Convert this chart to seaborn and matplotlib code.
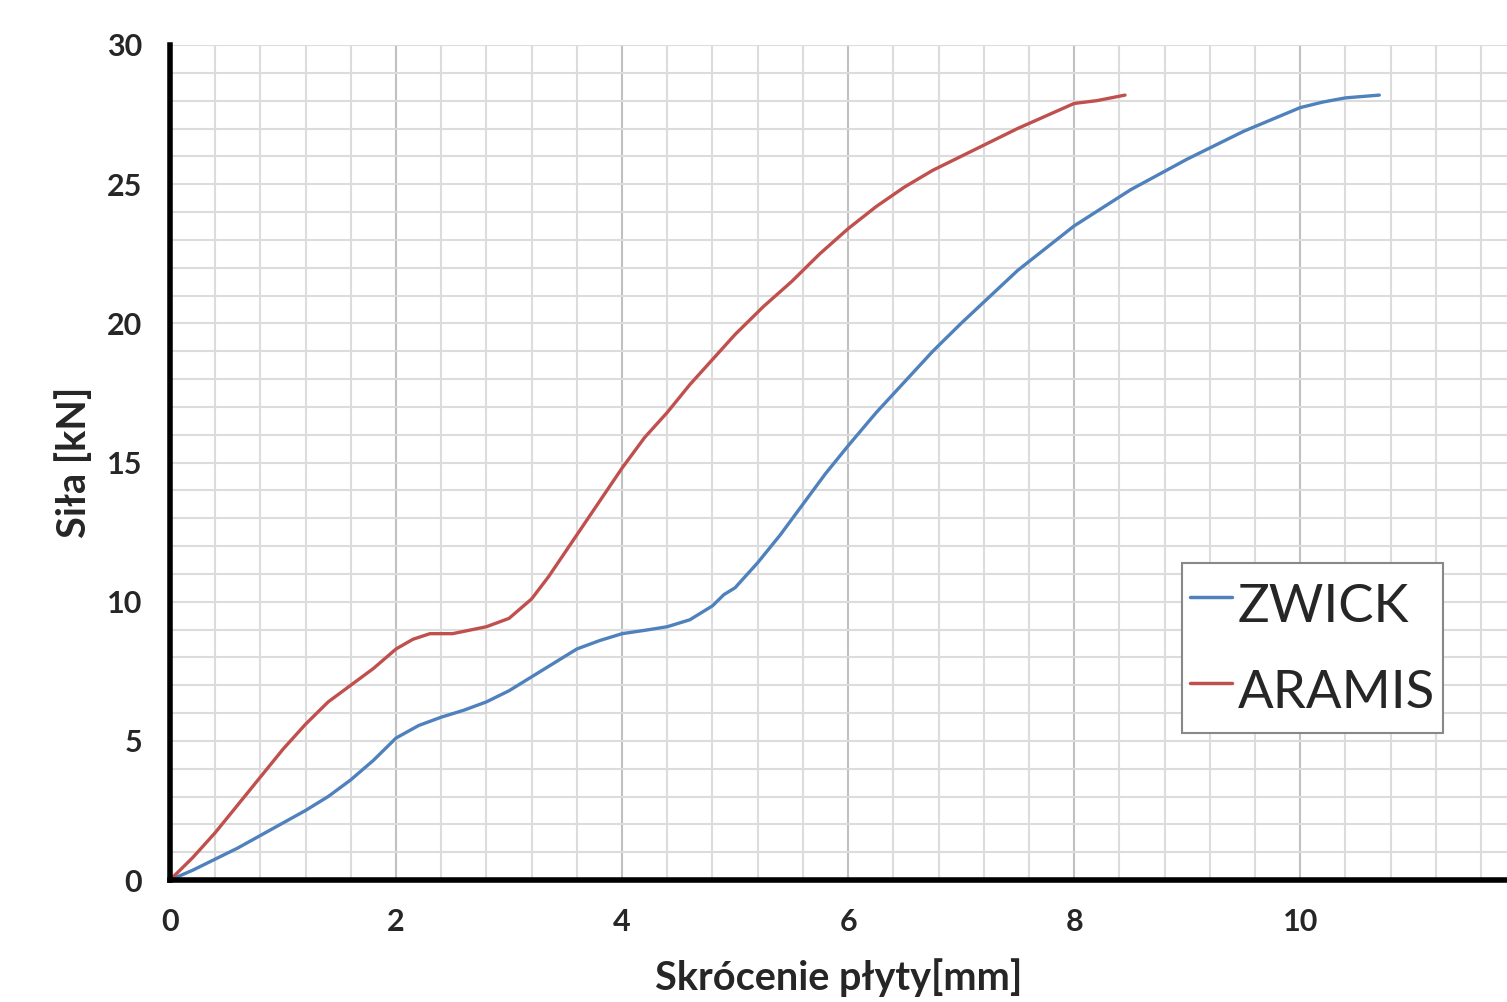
import numpy as np
import pandas as pd
import matplotlib
matplotlib.use("Agg")
import matplotlib.pyplot as plt
import seaborn as sns

# data
zwick_x = [0, 0.2, 0.4, 0.6, 0.8, 1.0, 1.2, 1.4, 1.6, 1.8, 2.0, 2.2, 2.4, 2.6,
           2.8, 3.0, 3.2, 3.4, 3.6, 3.8, 4.0, 4.2, 4.4, 4.6, 4.8, 4.9, 5.0,
           5.2, 5.4, 5.6, 5.8, 6.0, 6.25, 6.5, 6.75, 7.0, 7.5, 8.0, 8.5, 9.0,
           9.5, 10.0, 10.2, 10.4, 10.7]
zwick_y = [0, 0.35, 0.75, 1.15, 1.6, 2.05, 2.5, 3.0, 3.6, 4.3, 5.1, 5.55, 5.85,
           6.1, 6.4, 6.8, 7.3, 7.8, 8.3, 8.6, 8.85, 8.97, 9.1, 9.35, 9.85,
           10.25, 10.5, 11.4, 12.4, 13.5, 14.6, 15.6, 16.8, 17.9, 19.0, 20.0,
           21.9, 23.5, 24.8, 25.9, 26.9, 27.75, 27.95, 28.1, 28.2]

aramis_x = [0, 0.2, 0.4, 0.6, 0.8, 1.0, 1.2, 1.4, 1.6, 1.8, 2.0, 2.15, 2.3,
            2.5, 2.8, 3.0, 3.2, 3.35, 3.5, 3.65, 3.8, 4.0, 4.2, 4.4, 4.6,
            4.8, 5.0, 5.25, 5.5, 5.75, 6.0, 6.25, 6.5, 6.75, 7.0, 7.5, 8.0,
            8.2, 8.45]
aramis_y = [0, 0.8, 1.7, 2.7, 3.7, 4.7, 5.6, 6.4, 7.0, 7.6, 8.3, 8.65, 8.85,
            8.85, 9.1, 9.4, 10.1, 10.9, 11.8, 12.7, 13.6, 14.8, 15.9, 16.8,
            17.8, 18.7, 19.6, 20.6, 21.5, 22.5, 23.4, 24.2, 24.9, 25.5, 26.0,
            27.0, 27.9, 28.0, 28.2]

df = pd.concat([
    pd.DataFrame({"x": zwick_x, "y": zwick_y, "seria": "ZWICK"}),
    pd.DataFrame({"x": aramis_x, "y": aramis_y, "seria": "ARAMIS"}),
])

sns.set_style("white")
plt.rcParams["font.family"] = ["Lato", "DejaVu Sans"]

fig = plt.figure(figsize=(15.07, 10.02), dpi=100)
ax = fig.add_axes([170 / 1507, 122 / 1002, 1337 / 1507, 835 / 1002])

# grid
for v in np.arange(0, 12.01, 0.4):
    major = abs(v / 2 - round(v / 2)) < 1e-6
    ax.axvline(v, color="#c0c0c0" if major else "#dcdcdc", lw=1.5, zorder=0)
for v in range(0, 31):
    ax.axhline(v, color="#dcdcdc", lw=1.5, zorder=0)

sns.lineplot(data=df, x="x", y="y", hue="seria", sort=False, ax=ax,
             palette={"ZWICK": "#4F81BD", "ARAMIS": "#C0504D"}, lw=2.4)

ax.set_xlim(0, 11.83)
ax.set_ylim(0, 30)
ax.set_xticks([0, 2, 4, 6, 8, 10])
ax.set_yticks([0, 5, 10, 15, 20, 25, 30])
ax.tick_params(axis="both", direction="out", length=8, width=4, labelsize=22,
               pad=12, color="black")
for lab in ax.get_xticklabels() + ax.get_yticklabels():
    lab.set_fontweight("bold")

for s in ["top", "right"]:
    ax.spines[s].set_visible(False)
for s in ["left", "bottom"]:
    ax.spines[s].set_linewidth(4)
    ax.spines[s].set_color("black")

ax.set_xlabel("Skrócenie płyty[mm]", fontsize=28.5, fontweight="bold", labelpad=16)
ax.set_ylabel("Siła [kN]", fontsize=28.5, fontweight="bold", labelpad=10)

leg = ax.legend(loc="upper left", bbox_to_anchor=((1182 - 170) / 1337, (880 - 563) / 835),
                fontsize=38, handlelength=0.8, handletextpad=0.1,
                handleheight=1.6, borderpad=0.15, labelspacing=0.35,
                borderaxespad=0, fancybox=False, edgecolor="#888888",
                framealpha=1)
leg.get_frame().set_linewidth(1.5)
for line in leg.get_lines():
    line.set_linewidth(2.5)

plt.savefig("out.png", dpi=100)
plt.close()
